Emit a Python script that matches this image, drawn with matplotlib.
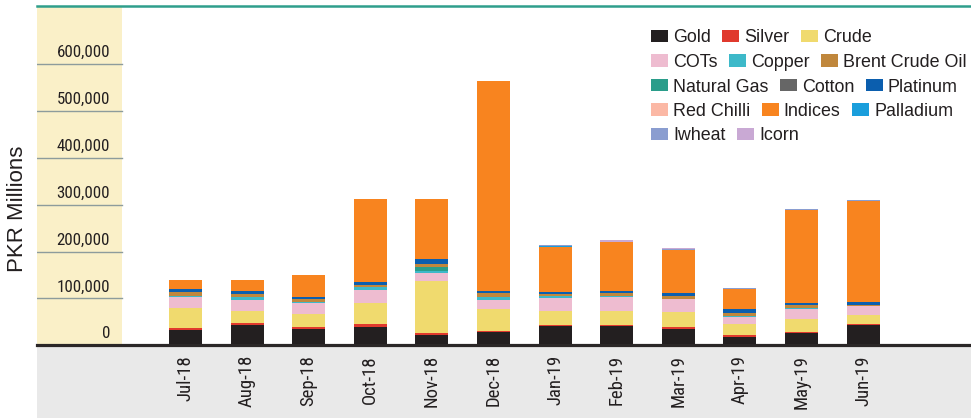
import numpy as np
import matplotlib
matplotlib.use("Agg")
import matplotlib.pyplot as plt
from matplotlib.patches import Rectangle
from matplotlib.lines import Line2D
import matplotlib.transforms as mtransforms
from matplotlib import font_manager

# ---------------- data (PKR millions) ----------------
months = ['Jul-18', 'Aug-18', 'Sep-18', 'Oct-18', 'Nov-18', 'Dec-18',
          'Jan-19', 'Feb-19', 'Mar-19', 'Apr-19', 'May-19', 'Jun-19']

gold       = [32700, 43400, 34800, 39100, 23000, 28400, 41200, 41200, 34800, 17800, 26300, 43400]
silver     = [4300, 4200, 4300, 6400, 2500, 2100, 2100, 2100, 4300, 4300, 2100, 2100]
crude      = [43000, 25600, 27700, 44800, 112000, 47000, 29800, 29800, 32000, 23500, 27700, 19200]
cots       = [23000, 23500, 23500, 27700, 17000, 19200, 27700, 29800, 27700, 14900, 21300, 19200]
copper     = [2000, 6400, 2100, 6400, 4300, 6400, 4200, 2100, 0, 2100, 2100, 0]
natural_gas = [0, 0, 0, 0, 8500, 0, 0, 0, 0, 0, 0, 0]
brent      = [8500, 6400, 6400, 4200, 6400, 8500, 4300, 6400, 6400, 6400, 6400, 1500]
cotton     = [0, 0, 0, 0, 0, 0, 0, 0, 0, 0, 0, 0]
platinum   = [6400, 6400, 4200, 6400, 11300, 4300, 4200, 4300, 6400, 8500, 4300, 6400]
red_chilli = [0, 0, 0, 0, 0, 0, 0, 0, 0, 0, 0, 0]
indices    = [19100, 23400, 47000, 177000, 127000, 447000, 96200, 104600, 92400, 42600, 198300, 215900]
palladium  = [0, 0, 0, 0, 0, 0, 2500, 0, 0, 0, 0, 0]
iwheat     = [0, 0, 0, 0, 0, 0, 1200, 0, 1500, 2100, 2100, 3000]
icorn      = [0, 0, 0, 0, 0, 0, 0, 4300, 2000, 0, 0, 0]

yticks = [0, 100000, 200000, 300000, 400000, 500000, 600000]

# stacking order (bottom -> top)
stack = [
    ('Gold', gold, '#231f20'),
    ('Silver', silver, '#e0392d'),
    ('Crude', crude, '#f0da6e'),
    ('COTs', cots, '#eebcd0'),
    ('Copper', copper, '#3db9c9'),
    ('Natural Gas', natural_gas, '#2a9d8a'),
    ('Brent Crude Oil', brent, '#c0873c'),
    ('Cotton', cotton, '#666666'),
    ('Platinum', platinum, '#0b5eae'),
    ('Red Chilli', red_chilli, '#fbb8a5'),
    ('Indices', indices, '#f8841f'),
    ('Palladium', palladium, '#1a9edc'),
    ('Iwheat', iwheat, '#8a9dd0'),
    ('Icorn', icorn, '#c9a9d4'),
]
colors = {n: c for n, _, c in stack}

legend_rows = [
    ['Gold', 'Silver', 'Crude'],
    ['COTs', 'Copper', 'Brent Crude Oil'],
    ['Natural Gas', 'Cotton', 'Platinum'],
    ['Red Chilli', 'Indices', 'Palladium'],
    ['Iwheat', 'Icorn'],
]

# ---------------- fonts ----------------
REG = ['Liberation Sans', 'Arial', 'DejaVu Sans']
available = {f.name for f in font_manager.fontManager.ttflist}
narrow_name = None
for cand in ['Liberation Sans Narrow', 'Arial Narrow', 'Roboto Condensed', 'Open Sans Condensed']:
    if cand in available:
        narrow_name = cand
        break
if narrow_name:
    NARROW = [narrow_name, 'Liberation Sans', 'DejaVu Sans']
    nscale = 1.0
else:
    NARROW = REG
    nscale = 0.82
TXT = '#231f20'

# ---------------- layout ----------------
W, H = 971, 418
DPI = 100
fig = plt.figure(figsize=(W / DPI, H / DPI), dpi=DPI)
fig.patch.set_facecolor('white')

ax_left, ax_right, ax_top, ax_bot = 37, 971, 7, 345.3
ax = fig.add_axes([ax_left / W, (H - ax_bot) / H, (ax_right - ax_left) / W, (ax_bot - ax_top) / H])
ax.set_facecolor('none')
for s in ax.spines.values():
    s.set_visible(False)

pitch = 61.6
first_center = 185.5
x = np.arange(len(months))
ax.set_xlim(-(first_center - ax_left) / pitch, len(months) - 1 + (ax_right - (first_center + pitch * 11)) / pitch)
px_per_100k = 46.9
ax.set_ylim(0, (ax_bot - ax_top) / px_per_100k * 100000)

# bottom gray band (figure coords), behind everything
fig.patches.append(Rectangle((ax_left / W, 0), (ax_right - ax_left) / W, (H - 347) / H,
                             transform=fig.transFigure, facecolor='#e9e9e9', edgecolor='none', zorder=-5))

# yellow band on the left of plot area
band_frac = (122 - ax_left) / (ax_right - ax_left)
ax.add_patch(Rectangle((0, 0), band_frac, 1, transform=ax.transAxes,
                       facecolor='#faf0c8', edgecolor='none', zorder=0))
for yv in yticks[1:]:
    ax.axhline(yv, xmin=0, xmax=band_frac, color='#8d9c9c', lw=1.0, zorder=1)

# y tick labels (inside the band)
lab_tr = mtransforms.offset_copy(
    mtransforms.blended_transform_factory(ax.transAxes, ax.transData), fig=fig, y=7, units='dots')
lab_x = (110 - ax_left) / (ax_right - ax_left)
for yv in yticks:
    ax.text(lab_x, yv, f'{yv:,}', transform=lab_tr, ha='right', va='baseline',
            fontsize=12.2 * nscale, family=NARROW, color=TXT)
ax.set_yticks([])

# bars
bottom = np.zeros(len(months))
width = 33 / pitch
for name, vals, col in stack:
    v = np.array(vals, dtype=float)
    ax.bar(x, v, width, bottom=bottom, color=col, edgecolor='none', zorder=3, label=name)
    bottom += v

# baseline
ax.axhline(0, color='#2b2727', lw=2.3, zorder=4, clip_on=False)

# x tick labels
ax.set_xticks(x)
ax.set_xticklabels(months, rotation=90, fontsize=13.5 * nscale, family=NARROW, color=TXT)
ax.tick_params(axis='x', length=0, pad=7)

# top teal line
fig.add_artist(Line2D([ax_left / W, 1], [(H - 6) / H] * 2, transform=fig.transFigure,
                      color='#2f9e8c', lw=1.8))

# y-axis title
fig.text(17.5 / W, (H - 209) / H, 'PKR Millions', rotation=90, ha='center', va='center',
         fontsize=16, family=REG, color=TXT)

# manual flowing legend (row-wise, like the original)
renderer = fig.canvas.get_renderer()
leg_x0 = 651
row_y = [36, 60.5, 85, 109.5, 134]
mw, mh = 17, 12
for ry, row in zip(row_y, legend_rows):
    cx = leg_x0
    for name in row:
        fig.patches.append(Rectangle((cx / W, (H - ry - mh / 2) / H), mw / W, mh / H,
                                     transform=fig.transFigure, facecolor=colors[name],
                                     edgecolor='none'))
        t = fig.text((cx + mw + 5) / W, (H - ry) / H, name, ha='left', va='center_baseline',
                     fontsize=12.9, family=REG, color=TXT)
        bb = t.get_window_extent(renderer)
        cx = bb.x1 + 11.5

fig.savefig('out.png', dpi=DPI, facecolor='white')
